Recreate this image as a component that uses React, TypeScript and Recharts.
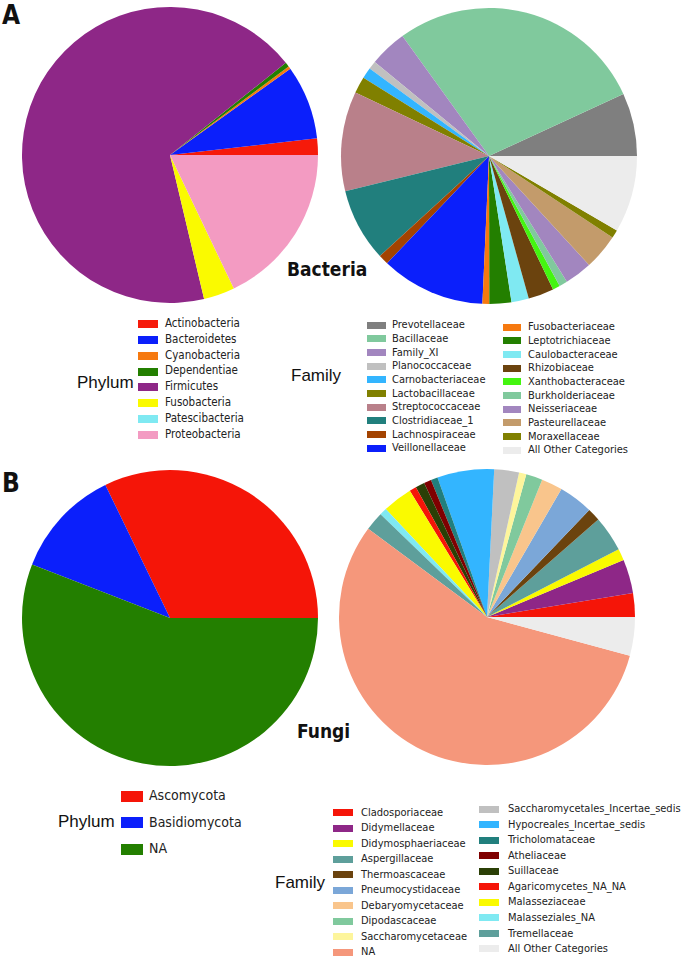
import { PieChart, Pie, Cell } from 'recharts';

// ---- Bacteria, phylum level (pie order = legend order) ----
const bacPhylumNames = ['Actinobacteria', 'Bacteroidetes', 'Cyanobacteria', 'Dependentiae', 'Firmicutes', 'Fusobacteria', 'Patescibacteria', 'Proteobacteria'];
const bacPhylumValues = [1.8, 8.1, 0.3, 0.5, 68.0, 3.4, 0, 17.9];
const bacPhylumColors = ['#f61a0a', '#0b1ffb', '#f6790f', '#237f00', '#8e2787', '#fafa00', '#7fe9f2', '#f39bc2'];

// ---- Bacteria, family level ----
const bacFamilyNames = [
  'Prevotellaceae', 'Bacillaceae', 'Family_XI', 'Planococcaceae', 'Carnobacteriaceae',
  'Lactobacillaceae', 'Streptococcaceae', 'Clostridiaceae_1', 'Lachnospiraceae', 'Veillonellaceae',
  'Fusobacteriaceae', 'Leptotrichiaceae', 'Caulobacteraceae', 'Rhizobiaceae', 'Xanthobacteraceae',
  'Burkholderiaceae', 'Neisseriaceae', 'Pasteurellaceae', 'Moraxellaceae', 'All Other Categories',
];
const bacFamilyValues = [6.9, 28.1, 4.1, 0.9, 1.2, 1.8, 10.9, 8.0, 1.1, 11.4, 0.75, 2.4, 1.9, 2.8, 0.8, 0.9, 3.0, 3.9, 0.9, 8.4];
const bacFamilyColors = [
  '#7f7f7f', '#80c99d', '#a286bf', '#c0c0c0', '#33b5ff',
  '#808000', '#b9808a', '#217f7d', '#a34300', '#0b1ffb',
  '#f6790f', '#237f00', '#7fe9f2', '#6b430e', '#44f510',
  '#80c99d', '#a286bf', '#c39b6b', '#808000', '#ececec',
];

// ---- Fungi, phylum level ----
const fungiPhylumNames = ['Ascomycota', 'Basidiomycota', 'NA'];
const fungiPhylumValues = [32.2, 11.9, 55.9];
const fungiPhylumColors = ['#f51508', '#0b1ffb', '#237f00'];

// ---- Fungi, family level (pie order) ----
const fungiFamilyNames = [
  'Cladosporiaceae', 'Didymellaceae', 'Didymosphaeriaceae', 'Aspergillaceae', 'Thermoascaceae',
  'Pneumocystidaceae', 'Debaryomycetaceae', 'Dipodascaceae', 'Saccharomycetaceae', 'Saccharomycetales_Incertae_sedis',
  'Hypocreales_Incertae_sedis', 'Tricholomataceae', 'Atheliaceae', 'Suillaceae', 'Agaricomycetes_NA_NA',
  'Malasseziaceae', 'Malasseziales_NA', 'Tremellaceae', 'NA', 'All Other Categories',
];
const fungiFamilyValues = [2.6, 3.7, 1.25, 3.9, 1.4, 3.75, 2.3, 1.8, 0.8, 2.7, 6.2, 0.75, 0.8, 1.0, 0.75, 3.25, 0.8, 2.05, 55.9, 4.2];
const fungiFamilyColors = [
  '#f51508', '#8e2787', '#fafa00', '#5e9f9b', '#6b430e',
  '#7ba7d8', '#f9c58c', '#80c99d', '#fdf59c', '#c0c0c0',
  '#33b5ff', '#217f7d', '#7f0000', '#2b3f06', '#f51508',
  '#fafa00', '#7fe9f2', '#5e9f9b', '#f5977b', '#ececec',
];
// legend order differs from pie order
const fungiFamilyLegendOrder = [
  'Cladosporiaceae', 'Didymellaceae', 'Didymosphaeriaceae', 'Aspergillaceae', 'Thermoascaceae',
  'Pneumocystidaceae', 'Debaryomycetaceae', 'Dipodascaceae', 'Saccharomycetaceae', 'NA',
  'Saccharomycetales_Incertae_sedis', 'Hypocreales_Incertae_sedis', 'Tricholomataceae', 'Atheliaceae', 'Suillaceae',
  'Agaricomycetes_NA_NA', 'Malasseziaceae', 'Malasseziales_NA', 'Tremellaceae', 'All Other Categories',
];

const FONT = "'DejaVu Sans Condensed', 'DejaVu Sans', sans-serif";
const LABEL_FONT = "'Liberation Sans', Arial, sans-serif";

function toData(names: string[], values: number[], colors: string[]) {
  return names.map((name, i) => ({ name, value: values[i], color: colors[i] }));
}

function PiePanel({ left, top, data }: { left: number; top: number; data: { name: string; value: number; color: string }[] }) {
  return (
    <div style={{ position: 'absolute', left, top }}>
      <PieChart width={310} height={310} margin={{ top: 0, right: 0, bottom: 0, left: 0 }}>
        <Pie data={data} dataKey="value" nameKey="name" cx={155} cy={155} outerRadius={148}
          startAngle={0} endAngle={360} stroke="none" isAnimationActive={false}>
          {data.map((d, i) => (
            <Cell key={i} fill={d.color} />
          ))}
        </Pie>
      </PieChart>
    </div>
  );
}

type Item = { name: string; color: string };

function LegendColumn({ left, top, items, step, swW, swH, gap, fontSize }: {
  left: number; top: number; items: Item[]; step: number; swW: number; swH: number; gap: number; fontSize: number;
}) {
  return (
    <div style={{ position: 'absolute', left, top, fontFamily: FONT, fontSize, color: '#222' }}>
      {items.map((it, i) => (
        <div key={i} style={{ position: 'absolute', top: i * step, left: 0, height: 0, whiteSpace: 'nowrap' }}>
          <div style={{ position: 'absolute', left: 0, top: -swH / 2, width: swW, height: swH, background: it.color }} />
          <div style={{ position: 'absolute', left: swW + gap, top: -fontSize * 0.62, lineHeight: 1.2 }}>{it.name}</div>
        </div>
      ))}
    </div>
  );
}

function Txt({ x, y, children, size, bold, font }: { x: number; y: number; children: string; size: number; bold?: boolean; font?: string }) {
  return (
    <div style={{ position: 'absolute', left: x, top: y - size * 0.6, fontSize: size, lineHeight: 1.2, fontWeight: bold ? 700 : 400, fontFamily: font ?? FONT, color: '#111', whiteSpace: 'nowrap' }}>
      {children}
    </div>
  );
}

export default function App() {
  const bacPhylum = toData(bacPhylumNames, bacPhylumValues, bacPhylumColors);
  const bacFamily = toData(bacFamilyNames, bacFamilyValues, bacFamilyColors);
  const fungiPhylum = toData(fungiPhylumNames, fungiPhylumValues, fungiPhylumColors);
  const fungiFamily = toData(fungiFamilyNames, fungiFamilyValues, fungiFamilyColors);
  const fungiColorOf = (n: string) => fungiFamilyColors[fungiFamilyNames.indexOf(n)];
  const fungiLegend = fungiFamilyLegendOrder.map((n) => ({ name: n, color: fungiColorOf(n) }));

  return (
    <div style={{ position: 'absolute', left: 0, top: 0, width: 685, height: 958, background: '#fff', overflow: 'hidden' }}>
      <Txt x={2} y={16} size={26} bold>A</Txt>
      <Txt x={2} y={484} size={26} bold>B</Txt>

      <PiePanel left={15} top={0} data={bacPhylum} />
      <PiePanel left={334} top={1} data={bacFamily} />
      <PiePanel left={15} top={463} data={fungiPhylum} />
      <PiePanel left={332} top={462} data={fungiFamily} />

      <Txt x={287} y={269} size={19} bold>Bacteria</Txt>
      <Txt x={297} y={731} size={19} bold>Fungi</Txt>

      <Txt x={77} y={383} size={17} font={LABEL_FONT}>Phylum</Txt>
      <LegendColumn left={138} top={324} items={bacPhylum} step={15.85} swW={20} swH={8} gap={7} fontSize={11.5} />

      <Txt x={291} y={376} size={17} font={LABEL_FONT}>Family</Txt>
      <LegendColumn left={367} top={325} items={bacFamily.slice(0, 10)} step={13.7} swW={19} swH={7} gap={6} fontSize={11} />
      <LegendColumn left={503} top={327} items={bacFamily.slice(10)} step={13.7} swW={18} swH={7} gap={7} fontSize={11} />

      <Txt x={58} y={822} size={17} font={LABEL_FONT}>Phylum</Txt>
      <LegendColumn left={121} top={796} items={fungiPhylum} step={26.5} swW={22} swH={11} gap={6} fontSize={14} />

      <Txt x={275} y={883} size={17} font={LABEL_FONT}>Family</Txt>
      <LegendColumn left={333} top={812.7} items={fungiLegend.slice(0, 10)} step={15.5} swW={20} swH={7} gap={8} fontSize={11} />
      <LegendColumn left={479} top={809} items={fungiLegend.slice(10)} step={15.55} swW={20} swH={7} gap={9} fontSize={11} />
    </div>
  );
}
